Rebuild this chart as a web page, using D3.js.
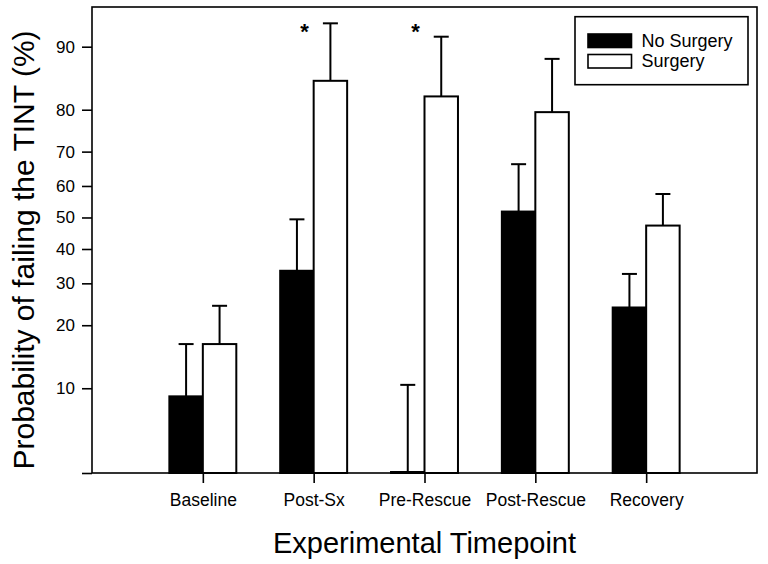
<!DOCTYPE html>
<html>
<head>
<meta charset="utf-8">
<script src="https://cdn.jsdelivr.net/npm/d3@7"></script>
<style>
  html, body { margin: 0; padding: 0; background: #fff; }
  svg { display: block; }
  text { font-family: "Liberation Sans", Arial, Helvetica, sans-serif; fill: #000; }
</style>
</head>
<body>
<svg id="chart" width="768" height="564"></svg>
<script>
// ---- data (percent) ----
const categories = ["Baseline", "Post-Sx", "Pre-Rescue", "Post-Rescue", "Recovery"];
const noSurgery      = [9.1, 33.5, 0, 51.9, 23.9];
const noSurgeryUpper = [16.4, 49.4, 10.4, 66.5, 32.6];
const surgery        = [16.4, 85.3, 82.6, 79.5, 47.4];
const surgeryUpper   = [24.3, 92.4, 91.1, 88.5, 57.5];
const yTicks = [10, 20, 30, 40, 50, 60, 70, 80, 90];
const significant = [false, true, true, false, false];
const seriesNames = ["No Surgery", "Surgery"];

// ---- layout ----
const svg = d3.select("#chart");
const plotL = 92, plotR = 757, plotT = 7, plotB = 473;
const yMinPct = 3.6, yMaxPct = 93.75;

const logit = p => Math.log(p / (1 - p));
const invLogit = v => 1 / (1 + Math.exp(-v));
const clampPct = v => Math.max(yMinPct, Math.min(yMaxPct, v));

const yLin = d3.scaleLinear()
  .domain([logit(yMinPct / 100), logit(yMaxPct / 100)])
  .range([plotB, plotT]);
const y = pct => yLin(logit(clampPct(pct) / 100));

const x = d3.scalePoint().domain(categories).range([plotL, plotR]).padding(1);
const barW = x.step() * 0.302;

// frame
svg.append("rect")
  .attr("x", plotL).attr("y", plotT)
  .attr("width", plotR - plotL).attr("height", plotB - plotT)
  .attr("fill", "none").attr("stroke", "#000").attr("stroke-width", 1.6);

const rows = categories.map((c, i) => ({
  c, i,
  ns: noSurgery[i], nsU: noSurgeryUpper[i],
  s: surgery[i], sU: surgeryUpper[i]
}));

const g = svg.append("g");

// error bars (drawn behind bars)
function errBar(cx, v, u) {
  g.append("line")
    .attr("x1", cx).attr("x2", cx)
    .attr("y1", y(v)).attr("y2", y(u))
    .attr("stroke", "#000").attr("stroke-width", 2);
  g.append("line")
    .attr("x1", cx - 7.5).attr("x2", cx + 7.5)
    .attr("y1", y(u)).attr("y2", y(u))
    .attr("stroke", "#000").attr("stroke-width", 2);
}
rows.forEach(r => {
  errBar(x(r.c) - barW / 2, r.ns, r.nsU);
  errBar(x(r.c) + barW / 2, r.s, r.sU);
});

rows.forEach(r => {
  const yNs = Math.min(y(r.ns), plotB - 1);
  g.append("rect")
    .attr("x", x(r.c) - barW).attr("y", yNs)
    .attr("width", barW).attr("height", plotB - yNs)
    .attr("fill", "#000").attr("stroke", "#000").attr("stroke-width", 2);
  const yS = Math.min(y(r.s), plotB - 1);
  g.append("rect")
    .attr("x", x(r.c)).attr("y", yS)
    .attr("width", barW).attr("height", plotB - yS)
    .attr("fill", "#fff").attr("stroke", "#000").attr("stroke-width", 2);
});

// significance asterisks
rows.filter(r => significant[r.i]).forEach(r => {
  svg.append("text")
    .attr("x", x(r.c) - barW * 0.27)
    .attr("y", plotT + 32)
    .attr("text-anchor", "middle")
    .attr("font-size", 22)
    .attr("font-weight", "bold")
    .text("*");
});

// y axis
const yAxis = d3.axisLeft(yLin)
  .tickValues([logit(yMinPct / 100)].concat(yTicks.map(t => logit(t / 100))))
  .tickFormat((v, i) => i === 0 ? "" : String(Math.round(invLogit(v) * 100)))
  .tickSize(10).tickSizeOuter(0).tickPadding(7);
const ya = svg.append("g").attr("transform", `translate(${plotL},0)`).call(yAxis);
ya.select(".domain").remove();
ya.selectAll("line").attr("stroke", "#000").attr("stroke-width", 1.6);
ya.selectAll("text").attr("font-size", 17).attr("fill", "#000")
  .style("font-family", '"Liberation Sans", Arial, sans-serif');

// x axis
const xAxis = d3.axisBottom(x).tickSize(10).tickSizeOuter(0).tickPadding(11);
const xa = svg.append("g").attr("transform", `translate(0,${plotB})`).call(xAxis);
xa.select(".domain").remove();
xa.selectAll("line").attr("stroke", "#000").attr("stroke-width", 1.6);
xa.selectAll("text").attr("font-size", 17.5).attr("fill", "#000")
  .style("font-family", '"Liberation Sans", Arial, sans-serif');

// axis titles
svg.append("text")
  .attr("x", (plotL + plotR) / 2).attr("y", 553)
  .attr("text-anchor", "middle").attr("font-size", 29)
  .text("Experimental Timepoint");
svg.append("text")
  .attr("transform", "translate(33.5,250) rotate(-90)")
  .attr("text-anchor", "middle").attr("font-size", 30)
  .text("Probability of failing the TINT (%)");

// legend
const lg = svg.append("g");
lg.append("rect")
  .attr("x", 575).attr("y", 16.7).attr("width", 173).attr("height", 68)
  .attr("fill", "#fff").attr("stroke", "#000").attr("stroke-width", 1.6);
seriesNames.forEach((name, i) => {
  lg.append("rect")
    .attr("x", 588).attr("y", 34 + i * 20.5).attr("width", 43.5).attr("height", 13.5)
    .attr("fill", i === 0 ? "#000" : "#fff").attr("stroke", "#000").attr("stroke-width", 1.6);
  lg.append("text")
    .attr("x", 641.5).attr("y", 47 + i * 20)
    .attr("font-size", 18)
    .text(name);
});
</script>
</body>
</html>
